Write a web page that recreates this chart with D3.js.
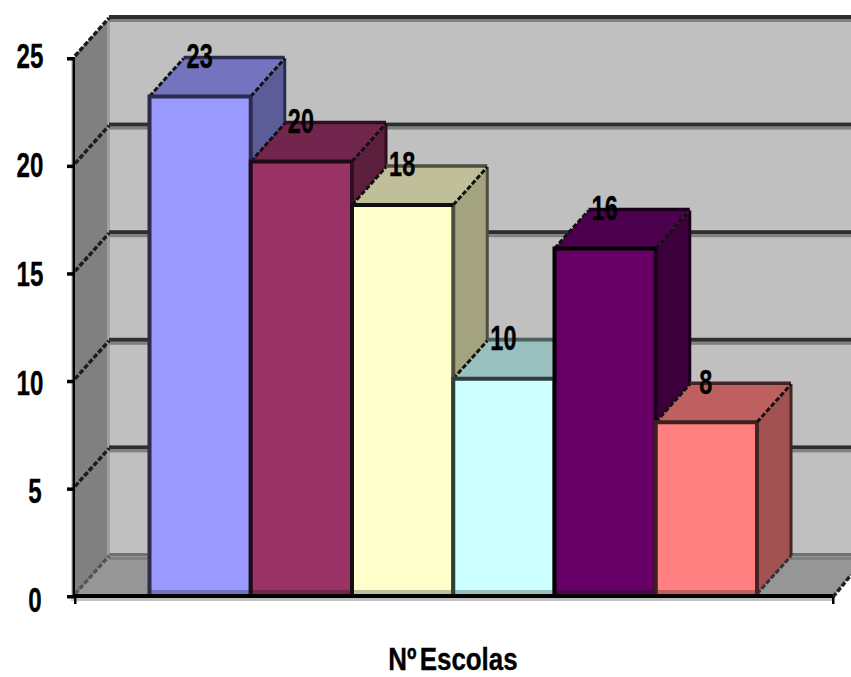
<!DOCTYPE html>
<html><head><meta charset="utf-8">
<script src="https://cdnjs.cloudflare.com/ajax/libs/d3/7.8.5/d3.min.js"></script>
<style>html,body{margin:0;padding:0;background:#fff}svg{display:block}
text{font-family:"Liberation Sans",Arial,sans-serif;font-weight:bold;fill:#000;stroke:#000;stroke-width:0.35}</style>
</head><body><svg id="c" width="851" height="677"></svg>
<script>
const categories=["A","B","C","D","E","F"];
const values=[23,20,18,10,16,8];
const frontColors=["#9999ff","#993366","#ffffcc","#ccffff","#660066","#ff8080"];
const topColors=["#7373bf","#73264d","#bfbf99","#99bfbf","#4d004d","#bf6060"];
const sideColors=["#5c5c99","#5c1f3d","#a3a37f","#7a9999","#3d003d","#a35252"];
const edgeColors=["#2b2b4d","#1f0b16","#111111","#2f3d3d","#000000","#3d1f1f"];
const rightEdgeColors=["#2b2b4d","#2e1020","#4d4d40","#4d6060","#1a001a","#452424"];
const yTicks=[0,5,10,15,20,25];
const xLabel="Nº Escolas";

const svg=d3.select("#c");
const y=d3.scaleLinear().domain([0,25]).range([597,59]);
const yLabel=d3.scaleLinear().domain([0,25]).range([600,56]);
const yBar=d3.scaleLinear().domain([0,25]).range([596,53]);
const x=d3.scaleBand().domain(categories).range([149.5,757]).padding(0);
const L=75,R=833,wallDx=34,wallDy=-41,barDx=34,barDy=-38;
const poly=(pts,f,s,sw)=>svg.append("path").attr("d",d3.line()(pts)+"Z").attr("fill",f).attr("stroke",s||"none").attr("stroke-width",sw||0);

// walls
svg.append("rect").attr("x",L+wallDx).attr("y",y(25)+wallDy).attr("width",851-L-wallDx).attr("height",y(0)-y(25)).attr("fill","#c0c0c0");
poly([[L,y(25)-4],[L+wallDx,y(25)+wallDy],[L+wallDx,y(0)+wallDy],[L,y(0)]],"#808080");
poly([[L,y(0)],[L+wallDx,y(0)+wallDy],[R+wallDx,y(0)+wallDy],[R,y(0)]],"#969696");
svg.append("rect").attr("x",L+wallDx-2).attr("y",y(25)+wallDy).attr("width",3).attr("height",y(0)-y(25)).attr("fill","#a0a0a0");
svg.append("rect").attr("x",71).attr("y",y(25)).attr("width",3).attr("height",y(0)-y(25)+4).attr("fill","#d0d0d0");

// gridlines on the back wall and their diagonals
yTicks.forEach(t=>{
  const yy=y(t)+wallDy;
  svg.append("rect").attr("x",L+wallDx).attr("y",yy-3).attr("width",851-L-wallDx).attr("height",t===0?3:4).attr("fill",t===0?"#707070":"#2e2e2e");
  svg.append("rect").attr("x",L+wallDx).attr("y",yy+1).attr("width",851-L-wallDx).attr("height",3).attr("fill","#808080");
  svg.append("line").attr("x1",L).attr("y1",y(t)-3).attr("x2",L+wallDx).attr("y2",yy)
    .attr("stroke",t===0?"#555":"#1c1c1c").attr("stroke-width",3.5).attr("stroke-dasharray","5 2");
});
svg.append("line").attr("x1",R).attr("y1",y(0)).attr("x2",851).attr("y2",y(0)-22).attr("stroke","#222").attr("stroke-width",3.5).attr("stroke-dasharray","5 2");

// bars
categories.forEach((c,i)=>{
  const x0=x(c),x1=x0+x.bandwidth(),t=yBar(values[i]),b=594;
  const e=rightEdgeColors[i];
  poly([[x1,t],[x1+barDx,t+barDy],[x1+barDx,b+barDy],[x1,b]],sideColors[i]);
  poly([[x0,t],[x0+barDx,t+barDy],[x1+barDx,t+barDy],[x1,t]],topColors[i]);
  svg.append("line").attr("x1",x0+barDx).attr("y1",t+barDy-1).attr("x2",x1+barDx).attr("y2",t+barDy-1).attr("stroke",e).attr("stroke-width",3.5);
  svg.append("line").attr("x1",x1+barDx).attr("y1",t+barDy).attr("x2",x1+barDx).attr("y2",b+barDy).attr("stroke",e).attr("stroke-width",3);
  [[x0,t],[x1,t]].forEach(p=>svg.append("line").attr("x1",p[0]).attr("y1",p[1]).attr("x2",p[0]+barDx).attr("y2",p[1]+barDy)
     .attr("stroke","#111").attr("stroke-width",3).attr("stroke-dasharray","5 2"));
  svg.append("line").attr("x1",x1).attr("y1",b).attr("x2",x1+barDx).attr("y2",b+barDy).attr("stroke","#333").attr("stroke-width",3).attr("stroke-dasharray","5 2");
});
categories.forEach((c,i)=>{
  const x0=x(c),w=x.bandwidth(),t=yBar(values[i]),b=594;
  svg.append("rect").attr("x",x0).attr("y",t).attr("width",w).attr("height",b-t).attr("fill",frontColors[i]);
  svg.append("rect").attr("x",x0).attr("y",b-4).attr("width",w).attr("height",4).attr("fill",topColors[i]);
  svg.append("line").attr("x1",x0+w).attr("y1",t).attr("x2",x0+w).attr("y2",b).attr("stroke",rightEdgeColors[i]).attr("stroke-width",4);
  svg.append("path").attr("d",`M${x0},${b}V${t}H${x0+w}`).attr("fill","none").attr("stroke",edgeColors[i]).attr("stroke-width",4);
});

// axes
svg.append("rect").attr("x",L-2).attr("y",y(0)+1).attr("width",R-L+2).attr("height",3).attr("fill","#c0c0c0");
svg.append("rect").attr("x",L-1).attr("y",y(0)-3).attr("width",R-L+1).attr("height",4).attr("fill","#000");
svg.append("rect").attr("x",72.5).attr("y",y(25)).attr("width",2.5).attr("height",y(0)-y(25)).attr("fill","#000");
svg.selectAll(".tk").data(yTicks).join("rect").attr("x",67).attr("y",d=>y(d)-2).attr("width",8).attr("height",3.5).attr("fill","#000");
[L,R].forEach(v=>svg.append("rect").attr("x",v-1).attr("y",y(0)).attr("width",2.5).attr("height",7).attr("fill","#000"));

const label=(txt,cx,cy,size,sx)=>svg.append("text").attr("transform",`translate(${cx},${cy}) scale(${sx},1)`)
  .attr("text-anchor","middle").attr("dominant-baseline","central").attr("font-size",size).text(txt);
yTicks.forEach(t=>label(String(t),t<10?35:30,yLabel(t),35,0.69));
categories.forEach((c,i)=>label(String(values[i]),x(c)+x.bandwidth()/2-0.5,yBar(values[i])-41,35,0.67));
label(xLabel,453,659.5,32,0.81).attr("word-spacing",-5);
</script></body></html>
